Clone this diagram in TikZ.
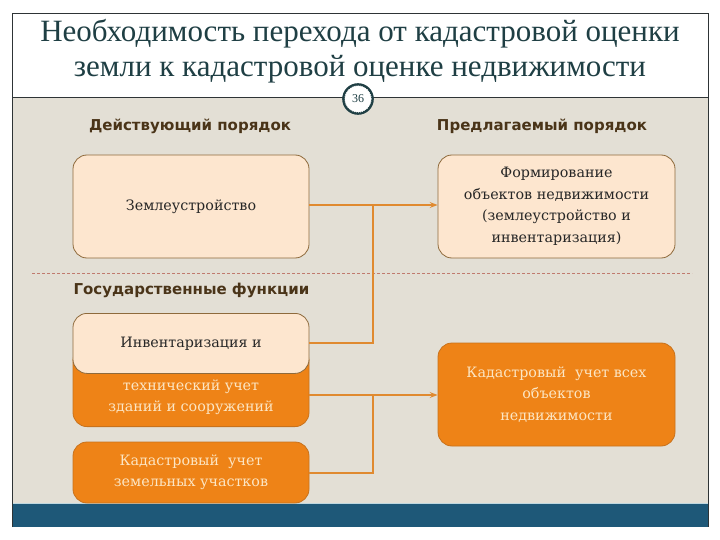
\documentclass[tikz,border=0pt]{standalone}
\usepackage{fontspec}
\setmainfont{DejaVu Serif}
\newfontfamily\titlefont{Liberation Serif}
\newfontfamily\headfont{DejaVu Sans}
\usetikzlibrary{arrows.meta,calc}
\definecolor{bgbeige}{HTML}{E3DFD5}
\definecolor{peach}{HTML}{FDE6CF}
\definecolor{peachline}{HTML}{8E6A3C}
\definecolor{orangefill}{HTML}{EE8317}
\definecolor{orangeline}{HTML}{C8721C}
\definecolor{orangetext}{HTML}{FCE6C4}
\definecolor{conn}{HTML}{E08A30}
\definecolor{dashcol}{HTML}{C07A6E}
\definecolor{headcol}{HTML}{4A3418}
\definecolor{titlecol}{HTML}{1F3F44}
\definecolor{barblue}{HTML}{1E5878}
\definecolor{framecol}{HTML}{2E3436}
\definecolor{barline}{HTML}{BFD8E0}
\tikzset{
  lightbox/.style={draw=peachline, line width=0.8pt, fill=peach, rounded corners=14pt, text=black!85, align=center, font=\fontsize{14.3}{21.5}\selectfont},
  orangebox/.style={draw=orangeline, line width=0.8pt, fill=orangefill, rounded corners=14pt, text=orangetext, align=center, font=\fontsize{14.3}{21.5}\selectfont},
  header/.style={text=headcol, font=\headfont\bfseries\fontsize{15}{17}\selectfont},
  connector/.style={draw=conn, line width=1.3pt},
  arrowconn/.style={connector, -{Stealth[length=8pt,width=6pt,inset=3pt]}},
}
\begin{document}
\begin{tikzpicture}[x=1pt,y=-1pt]
\useasboundingbox (0,0) rectangle (720,540);
\fill[white] (0,0) rectangle (720,540);
% beige panel and bottom bar
\fill[bgbeige] (12,98) rectangle (708,503);
\fill[barblue] (12,503) rectangle (708,527);
\draw[barline, line width=1pt] (12,503) -- (708,503);
% frame
\draw[framecol, line width=1pt] (12,527) -- (12,14) -- (708,14) -- (708,527);
\draw[framecol, line width=1pt] (12,98) -- (708,98);
% title
\node[text=titlecol, align=center, font=\titlefont\fontsize{31}{34.5}\selectfont] (title) at (360,51)
  {Необходимость перехода от кадастровой оценки\\земли к кадастровой оценке недвижимости};
% page number
\node[circle, draw=titlecol, line width=2.6pt, fill=white, minimum size=29pt, inner sep=0pt] (numring) at (358,99) {};
\node[circle, draw=white, line width=0.7pt, dash pattern=on 1pt off 1pt, minimum size=26.4pt, inner sep=0pt, text=titlecol, font=\titlefont\fontsize{12}{13}\selectfont] (num) at (358,99) {36};
% headers
\node[header] (h1) at (190,126) {Действующий порядок};
\node[header] (h2) at (542,126) {Предлагаемый порядок};
% dashed separator
\coordinate (dl) at (32,273);
\coordinate (dr) at (692,273);
\draw[dashcol, line width=0.8pt, dash pattern=on 3pt off 2pt] (dl) -- (dr);
\node[header, anchor=west] (h3) at (70,290) {Государственные функции};
% left boxes
\node[lightbox, minimum width=236pt, minimum height=103pt] (zem) at (191,206.5) {Землеустройство};
\node[orangebox, minimum width=236pt, minimum height=80pt, anchor=south] (invb) at (191,427) {};
\node[lightbox, minimum width=236pt, minimum height=60pt, anchor=north] (inv) at (191,313) {Инвентаризация и};
\node[text=orangetext, align=center, font=\fontsize{14.3}{21}\selectfont] (invt) at (191,397) {технический учет\\зданий и сооружений};
\node[orangebox, minimum width=236pt, minimum height=61pt] (kzu) at (191,472.5) {Кадастровый\ \ учет\\земельных участков};
% right boxes
\node[lightbox, minimum width=237pt, minimum height=103pt] (form) at (556.5,206.5)
  {Формирование\\объектов недвижимости\\(землеустройство и\\инвентаризация)};
\node[orangebox, minimum width=237pt, minimum height=103pt] (kvo) at (556.5,394.5)
  {Кадастровый\ \ учет всех\\объектов\\недвижимости};
% connectors
\coordinate (j1) at (373,205);
\coordinate (j2) at (373,395);
\draw[arrowconn] (zem.east |- j1) -- (form.west |- j1);
\draw[connector] (j1) |- (inv.east |- 0,343);
\draw[arrowconn] (invb.east |- j2) -- (kvo.west |- j2);
\draw[connector] (j2) |- (kzu.east |- 0,473);
\end{tikzpicture}
\end{document}
